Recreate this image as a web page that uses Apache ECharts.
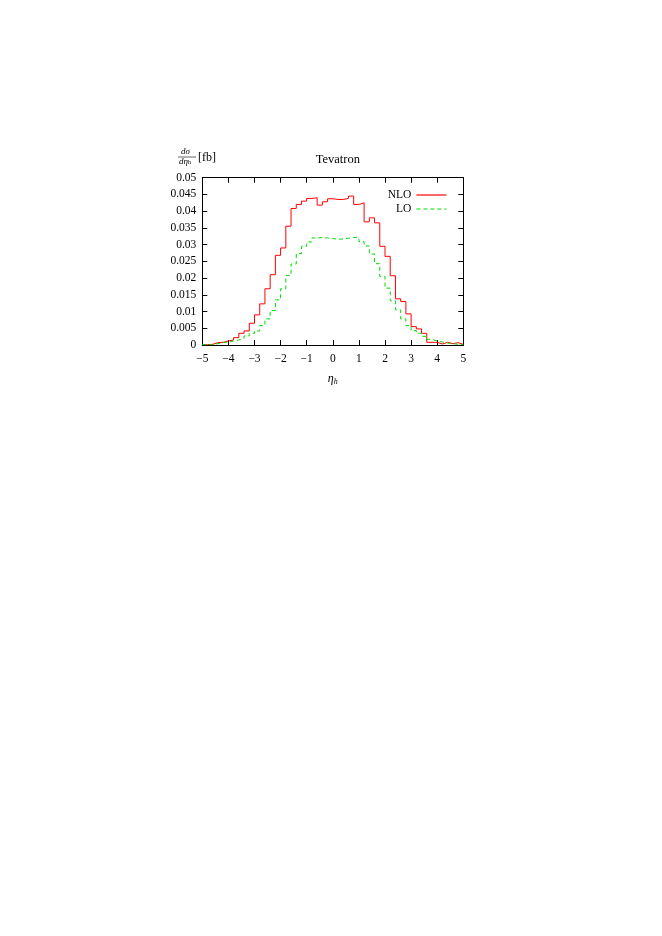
<!DOCTYPE html>
<html>
<head>
<meta charset="utf-8">
<script src="https://cdn.jsdelivr.net/npm/echarts@6/dist/echarts.min.js"></script>
<style>html,body{margin:0;padding:0;background:#fff;}#c{width:662px;height:936px;}</style>
</head>
<body>
<div id="c"></div>
<script>
// Left edges of the 0.2-wide eta_h bins
const binEdges = [-5.0,-4.8,-4.6,-4.4,-4.2,-4.0,-3.8,-3.6,-3.4,-3.2,-3.0,-2.8,-2.6,-2.4,-2.2,-2.0,-1.8,-1.6,-1.4,-1.2,-1.0,-0.8,-0.6,-0.4,-0.2,0.0,0.2,0.4,0.6,0.8,1.0,1.2,1.4,1.6,1.8,2.0,2.2,2.4,2.6,2.8,3.0,3.2,3.4,3.6,3.8,4.0,4.2,4.4,4.6,4.8];
const lastEdge = 5.0;
const nloValues = [0.0001,0.0002,0.0007,0.0008,0.0012,0.0015,0.0022,0.0035,0.0042,0.0065,0.009,0.0123,0.0168,0.021,0.0268,0.029,0.0355,0.0408,0.042,0.043,0.0438,0.044,0.0418,0.0428,0.0437,0.0435,0.0435,0.0438,0.0445,0.042,0.0425,0.0368,0.038,0.0365,0.0295,0.0265,0.0207,0.0138,0.013,0.0093,0.0055,0.0048,0.0035,0.0008,0.0008,0.0003,0.0008,0.0004,0.0007,0.0002];
const loValues = [0.0001,0.0001,0.0004,0.0007,0.0009,0.0012,0.0015,0.002,0.0027,0.0035,0.0042,0.0058,0.0078,0.0103,0.0135,0.0168,0.0208,0.0242,0.0273,0.0295,0.0308,0.032,0.0321,0.032,0.0318,0.0316,0.0317,0.0319,0.0321,0.0321,0.0309,0.0296,0.0272,0.0243,0.0205,0.017,0.0132,0.0105,0.0078,0.0058,0.0043,0.0035,0.0026,0.0017,0.0012,0.0009,0.0006,0.0004,0.0002,0.0001];
const xTicks = [-5,-4,-3,-2,-1,0,1,2,3,4,5];
const yTicks = [0,0.005,0.01,0.015,0.02,0.025,0.03,0.035,0.04,0.045,0.05];

function stepData(vals){
  const d = binEdges.map((e,i)=>[e, vals[i]]);
  d.push([lastEdge, vals[vals.length-1]]);
  return d;
}
const FONT = '"Liberation Serif", "DejaVu Serif", serif';
const fmtX = v => v < 0 ? '\u2212' + Math.abs(v) : String(v);

const chart = echarts.init(document.getElementById('c'), null, {renderer:'canvas'});
const axisCommon = {
  axisLine:{show:true, onZero:false, lineStyle:{color:'#000', width:1}},
  axisTick:{show:true, inside:true, length:5, lineStyle:{color:'#000', width:1}},
  splitLine:{show:false}
};
chart.setOption({
  animation:false,
  backgroundColor:'#fff',
  title:{
    text:'Tevatron', left:332.8, top:148, textAlign:'center',
    textStyle:{fontFamily:FONT, fontSize:12.5, fontWeight:'normal', color:'#000'}
  },
  legend:{
    orient:'vertical', right:210, top:184, align:'right',
    itemWidth:30, itemHeight:10, itemGap:2,
    itemStyle:{opacity:0},
    lineStyle:{width:1.2},
    textStyle:{fontFamily:FONT, fontSize:11.5, lineHeight:10, color:'#000'},
    data:['NLO','LO']
  },
  grid:{left:202.3, right:198.7, top:177.7, bottom:591, containLabel:false},
  xAxis:[
    Object.assign({}, axisCommon, {
      type:'value', position:'bottom', min:xTicks[0], max:xTicks[xTicks.length-1], interval:1,
      axisLabel:{formatter:fmtX, fontFamily:FONT, fontSize:11.5, color:'#000', margin:8},
      name:'\u03b7{s|h}', nameLocation:'middle', nameGap:27,
      nameTextStyle:{fontFamily:FONT, fontSize:12, fontStyle:'italic', color:'#000',
        rich:{s:{fontFamily:FONT, fontSize:8, color:'#000', verticalAlign:'bottom', padding:[6,0,0,0]}}}
    }),
    Object.assign({}, axisCommon, {
      type:'value', position:'top', min:xTicks[0], max:xTicks[xTicks.length-1], interval:1,
      axisLabel:{show:false}
    })
  ],
  yAxis:[
    Object.assign({}, axisCommon, {
      type:'value', position:'left', min:yTicks[0], max:yTicks[yTicks.length-1], interval:0.005,
      axisLabel:{fontFamily:FONT, fontSize:11.5, color:'#000', margin:6}
    }),
    Object.assign({}, axisCommon, {
      type:'value', position:'right', min:yTicks[0], max:yTicks[yTicks.length-1], interval:0.005,
      axisLabel:{show:false}
    })
  ],
  graphic:[
    {type:'text', left:181, top:147, style:{text:'d\u03c3', font:'italic 9px ' + FONT, fill:'#000'}},
    {type:'line', shape:{x1:178, y1:157, x2:196, y2:157}, style:{stroke:'#000', lineWidth:0.6}},
    {type:'text', left:179, top:157.5, style:{text:'d\u03b7{s|h}', font:'italic 9px ' + FONT, fill:'#000',
      rich:{s:{fontFamily:FONT, fontSize:6, fill:'#000'}}}},
    {type:'text', left:198, top:152, style:{text:'[fb]', font:'12px ' + FONT, fill:'#000'}}
  ],
  series:[
    {name:'NLO', type:'line', step:'end', symbol:'none', xAxisIndex:0, yAxisIndex:0,
     data:stepData(nloValues), lineStyle:{color:'#ff0000', width:1}, itemStyle:{color:'#ff0000'}},
    {name:'LO', type:'line', step:'end', symbol:'none', xAxisIndex:0, yAxisIndex:0,
     data:stepData(loValues), lineStyle:{color:'#00dd00', width:1, type:[4,3]}, itemStyle:{color:'#00dd00'}}
  ]
});
</script>
</body>
</html>
